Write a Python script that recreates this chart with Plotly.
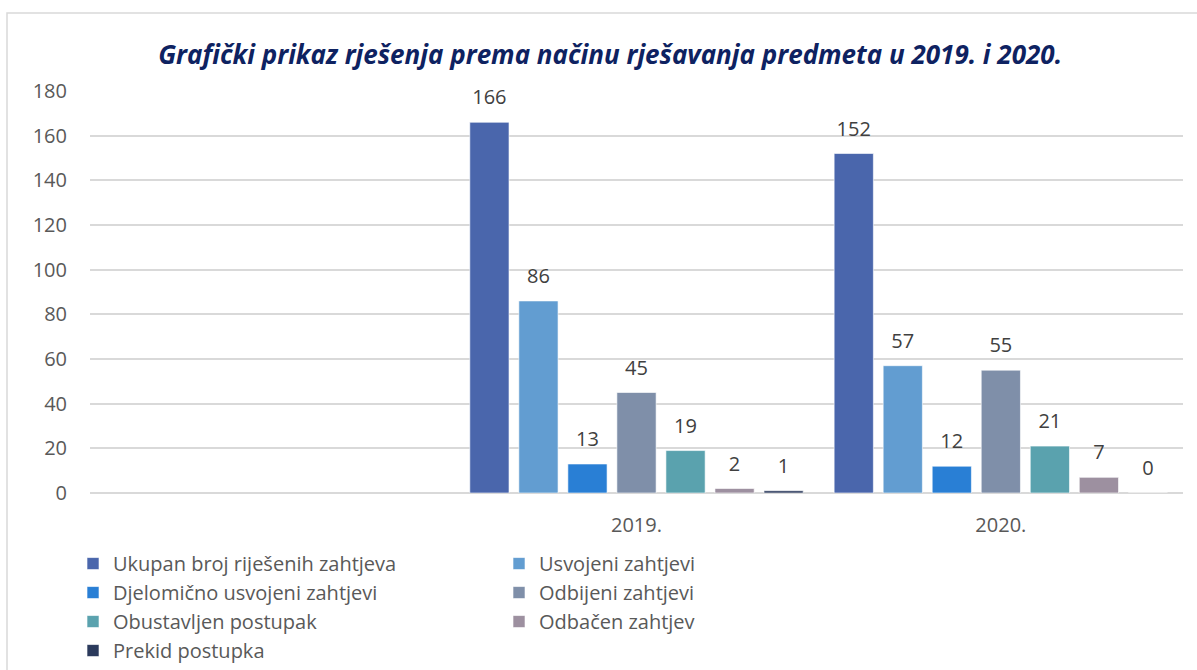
import plotly.graph_objects as go

categories = ["2019.", "2020."]
series_names = [
    "Ukupan broj riješenih zahtjeva",
    "Usvojeni zahtjevi",
    "Djelomično usvojeni zahtjevi",
    "Odbijeni zahtjevi",
    "Obustavljen postupak",
    "Odbačen zahtjev",
    "Prekid postupka",
]
ukupan = [166, 152]
usvojeni = [86, 57]
djelomicno = [13, 12]
odbijeni = [45, 55]
obustavljen = [19, 21]
odbacen = [2, 7]
prekid = [1, 0]
series_values = [ukupan, usvojeni, djelomicno, odbijeni, obustavljen, odbacen, prekid]
colors = ["#4A66AC", "#629DD1", "#297FD5", "#7F8FA9", "#5AA2AE", "#9D90A0", "#2B3A5C"]

FONT = "Open Sans"

fig = go.Figure()
for i, (name, vals, col) in enumerate(zip(series_names, series_values, colors)):
    fig.add_trace(go.Bar(
        name=name, x=categories, y=vals,
        marker=dict(color=col, line=dict(color="rgba(255,255,255,0.6)", width=1)),
        offsetgroup=str(i),
    ))
for i, (name, vals) in enumerate(zip(series_names, series_values)):
    fig.add_trace(go.Scatter(
        x=categories, y=vals, mode="markers+text",
        text=[str(v) for v in vals], textposition="top center",
        textfont=dict(family=FONT, size=20, color="#404040"),
        marker=dict(size=19, opacity=0),
        offsetgroup=str(i), showlegend=False, hoverinfo="skip",
        cliponaxis=False,
    ))

fig.update_layout(
    width=1197, height=670,
    paper_bgcolor="white", plot_bgcolor="white",
    margin=dict(l=90, r=14, t=91, b=177),
    barmode="group", bargap=0.058, bargroupgap=0.2,
    scattermode="group", scattergap=0.058,
    title=dict(
        text="<b><i>Grafički prikaz rješenja prema načinu rješavanja predmeta u 2019. i 2020.</i></b>",
        x=0.5097, xanchor="center", y=0.918, yanchor="middle",
        font=dict(family=FONT, size=26, color="#0E2261"),
    ),
    font=dict(family=FONT, color="#595959"),
    xaxis=dict(
        type="category", range=[-1.5, 1.5], automargin=False,
        showgrid=False, showline=False, zeroline=False,
        tickfont=dict(size=20, color="#595959"), ticks="", ticklabelstandoff=18,
    ),
    yaxis=dict(
        range=[0, 180], dtick=20, automargin=False,
        showgrid=True, gridcolor="#D9D9D9", gridwidth=1.5,
        zeroline=True, zerolinecolor="#D9D9D9", zerolinewidth=1.5,
        showline=False, ticks="", tickfont=dict(size=20, color="#595959"),
        ticklabelstandoff=22,
    ),
    legend=dict(
        orientation="h", xref="container", x=0.061, xanchor="left",
        yref="container", y=0.188, yanchor="top",
        entrywidth=381, font=dict(size=20, color="#595959"),
        traceorder="normal", itemwidth=30, tracegroupgap=0,
    ),
    showlegend=True,
    shapes=[dict(
        type="rect", xref="paper", yref="paper",
        x0=(7 - 90) / 1093, x1=1.1, y0=-0.6, y1=1 + (91 - 13) / 402,
        line=dict(color="#D9D9D9", width=1.5), fillcolor="rgba(0,0,0,0)", layer="below",
    )],
)

fig.write_html(
    "out.html",
    config={"displayModeBar": False},
    post_script="document.body.style.margin='0';document.body.style.overflow='hidden';",
)
